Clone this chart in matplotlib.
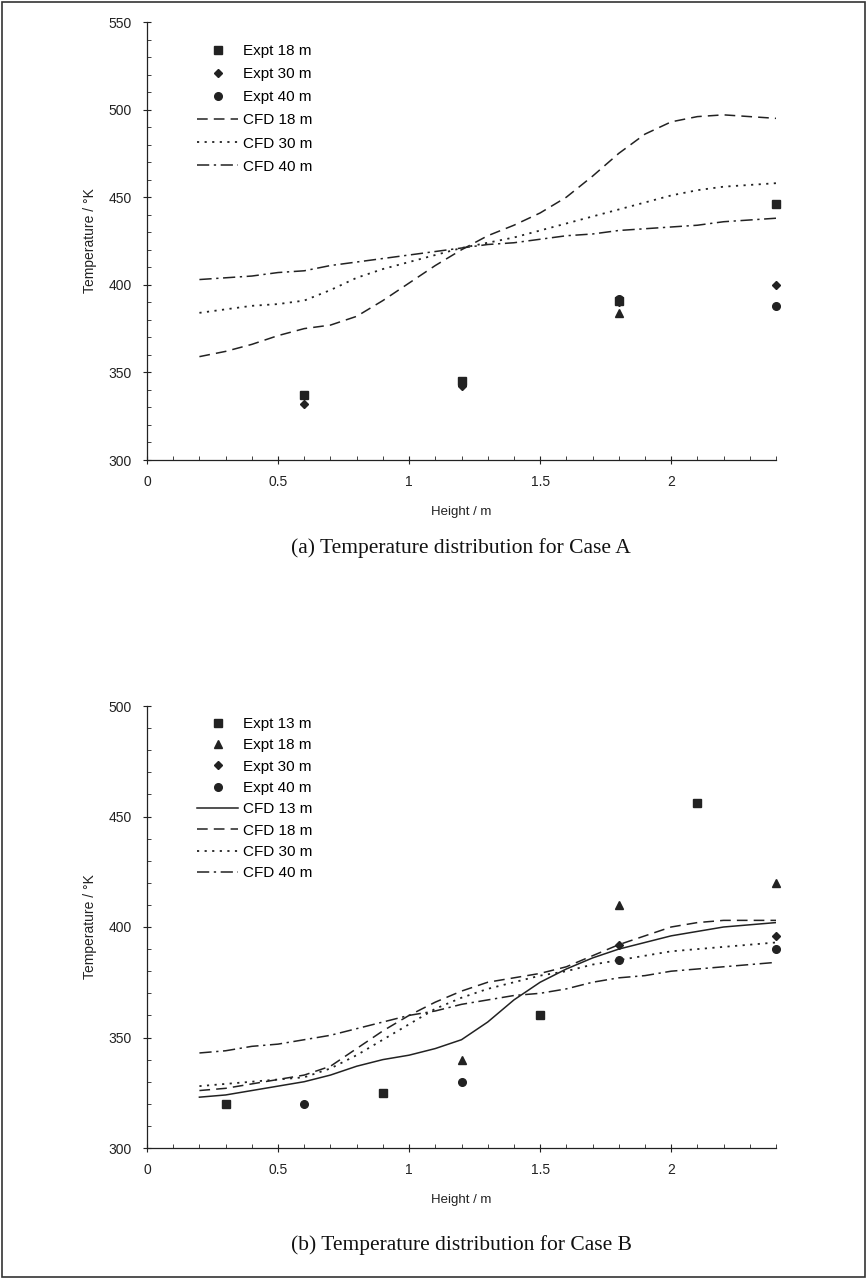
import matplotlib.pyplot as plt
from matplotlib.patches import Rectangle
from matplotlib.ticker import MultipleLocator

plt.rcParams["font.family"] = ["Liberation Sans", "DejaVu Sans"]

# ---- Case A data ----
a_expt_x = [0.6, 1.2, 1.8, 2.4]
a_expt18_y = [337, 345, 391, 446]
a_expt30_y = [332, 342, 390, 400]
a_expt40_y = [337, 344, 392, 388]
a_extra_x = [1.8]
a_extra_y = [384]

a_cfd_x = [0.2, 0.3, 0.4, 0.5, 0.6, 0.7, 0.8, 0.9, 1.0, 1.1, 1.2, 1.3,
           1.4, 1.5, 1.6, 1.7, 1.8, 1.9, 2.0, 2.1, 2.2, 2.3, 2.4]
a_cfd18_y = [359, 362, 366, 371, 375, 377, 382, 391, 401, 411, 420, 428,
             434, 441, 450, 462, 475, 486, 493, 496, 497, 496, 495]
a_cfd30_y = [384, 386, 388, 389, 391, 397, 404, 409, 413, 417, 421, 424,
             427, 431, 435, 439, 443, 447, 451, 454, 456, 457, 458]
a_cfd40_y = [403, 404, 405, 407, 408, 411, 413, 415, 417, 419, 421, 423,
             424, 426, 428, 429, 431, 432, 433, 434, 436, 437, 438]

# ---- Case B data ----
b_expt13_x = [0.3, 0.9, 1.5, 2.1]
b_expt13_y = [320, 325, 360, 456]
b_expt18_x = [1.2, 1.8, 2.4]
b_expt18_y = [340, 410, 420]
b_expt30_x = [1.8, 2.4]
b_expt30_y = [392, 396]
b_expt40_x = [0.6, 1.2, 1.8, 2.4]
b_expt40_y = [320, 330, 385, 390]

b_cfd_x = [0.2, 0.3, 0.4, 0.5, 0.6, 0.7, 0.8, 0.9, 1.0, 1.1, 1.2, 1.3,
           1.4, 1.5, 1.6, 1.7, 1.8, 1.9, 2.0, 2.1, 2.2, 2.3, 2.4]
b_cfd13_y = [323, 324, 326, 328, 330, 333, 337, 340, 342, 345, 349, 357,
             367, 375, 381, 386, 390, 393, 396, 398, 400, 401, 402]
b_cfd18_y = [326, 327, 329, 331, 333, 337, 345, 353, 360, 366, 371, 375,
             377, 379, 382, 387, 392, 396, 400, 402, 403, 403, 403]
b_cfd30_y = [328, 329, 330, 331, 332, 336, 342, 349, 356, 363, 368, 372,
             375, 378, 380, 383, 385, 387, 389, 390, 391, 392, 393]
b_cfd40_y = [343, 344, 346, 347, 349, 351, 354, 357, 360, 362, 365, 367,
             369, 370, 372, 375, 377, 378, 380, 381, 382, 383, 384]

INK = "#222222"
DASHED = (0, (7, 4))
DOTTED = (0, (1.2, 3))
DASHDOT = (0, (8, 3, 1.5, 3))

W, H = 867, 1279
fig = plt.figure(figsize=(W / 100, H / 100), dpi=100)
fig.patches.append(Rectangle((2 / W, 2 / H), 1 - 4 / W, 1 - 4 / H,
                             transform=fig.transFigure, fill=False,
                             edgecolor="#333333", linewidth=1.2))


def px_axes(left, top, right, bottom):
    return fig.add_axes([left / W, 1 - bottom / H, (right - left) / W,
                         (bottom - top) / H])


def style_axes(ax, ylim):
    ax.set_xlim(0, 2.4)
    ax.set_ylim(*ylim)
    for side in ("top", "right"):
        ax.spines[side].set_visible(False)
    for side in ("left", "bottom"):
        ax.spines[side].set_color(INK)
        ax.spines[side].set_linewidth(0.9)
    ax.xaxis.set_minor_locator(MultipleLocator(0.1))
    ax.yaxis.set_major_locator(MultipleLocator(50))
    ax.yaxis.set_minor_locator(MultipleLocator(10))
    ax.set_xticks([0, 0.5, 1, 1.5, 2])
    ax.set_xticklabels(["0", "0.5", "1", "1.5", "2"])
    ax.tick_params(which="major", direction="inout", length=6, width=0.8,
                   colors=INK, labelsize=10, pad=8)
    ax.tick_params(which="minor", direction="in", length=3, width=0.6,
                   colors=INK)
    ax.set_xlabel("Height / m", fontsize=9.5, labelpad=12, color=INK)
    ax.set_ylabel("Temperature / °K", fontsize=10, labelpad=8, color=INK)


def scatter(ax, x, y, marker, label, size=5.5):
    ax.plot(x, y, linestyle="none", marker=marker, markersize=size,
            color=INK, label=label, clip_on=False)


def add_legend(ax, top_px, spacing):
    ax.legend(loc="upper left", bbox_to_anchor=(197 / W, 1 - top_px / H),
              bbox_transform=fig.transFigure, frameon=False, fontsize=11,
              handlelength=2.7, handletextpad=0.3, labelspacing=spacing,
              borderpad=0, borderaxespad=0)


# ---- (a) Case A ----
ax1 = px_axes(147, 22, 776, 460)
scatter(ax1, a_expt_x, a_expt18_y, "s", "Expt 18 m")
scatter(ax1, a_expt_x, a_expt30_y, "D", "Expt 30 m", 4.5)
scatter(ax1, a_expt_x, a_expt40_y, "o", "Expt 40 m")
scatter(ax1, a_extra_x, a_extra_y, "^", None)
ax1.plot(a_cfd_x, a_cfd18_y, color=INK, lw=1.1, ls=DASHED, label="CFD 18 m")
ax1.plot(a_cfd_x, a_cfd30_y, color=INK, lw=1.3, ls=DOTTED, label="CFD 30 m")
ax1.plot(a_cfd_x, a_cfd40_y, color=INK, lw=1.1, ls=DASHDOT, label="CFD 40 m")
style_axes(ax1, (300, 550))
add_legend(ax1, 44, 0.6)

fig.text(461 / W, 1 - 548 / H, "(a) Temperature distribution for Case A",
         family="Liberation Serif", fontsize=15.5, ha="center", va="center",
         color="#111111")

# ---- (b) Case B ----
ax2 = px_axes(147, 706, 776, 1148)
scatter(ax2, b_expt13_x, b_expt13_y, "s", "Expt 13 m")
scatter(ax2, b_expt18_x, b_expt18_y, "^", "Expt 18 m")
scatter(ax2, b_expt30_x, b_expt30_y, "D", "Expt 30 m", 4.5)
scatter(ax2, b_expt40_x, b_expt40_y, "o", "Expt 40 m")
ax2.plot(b_cfd_x, b_cfd13_y, color=INK, lw=1.1, ls="-", label="CFD 13 m")
ax2.plot(b_cfd_x, b_cfd18_y, color=INK, lw=1.1, ls=DASHED, label="CFD 18 m")
ax2.plot(b_cfd_x, b_cfd30_y, color=INK, lw=1.3, ls=DOTTED, label="CFD 30 m")
ax2.plot(b_cfd_x, b_cfd40_y, color=INK, lw=1.1, ls=DASHDOT, label="CFD 40 m")
style_axes(ax2, (300, 500))
add_legend(ax2, 717, 0.48)

fig.text(461 / W, 1 - 1245 / H, "(b) Temperature distribution for Case B",
         family="Liberation Serif", fontsize=15.5, ha="center", va="center",
         color="#111111")

fig.savefig("out.png", dpi=100)
